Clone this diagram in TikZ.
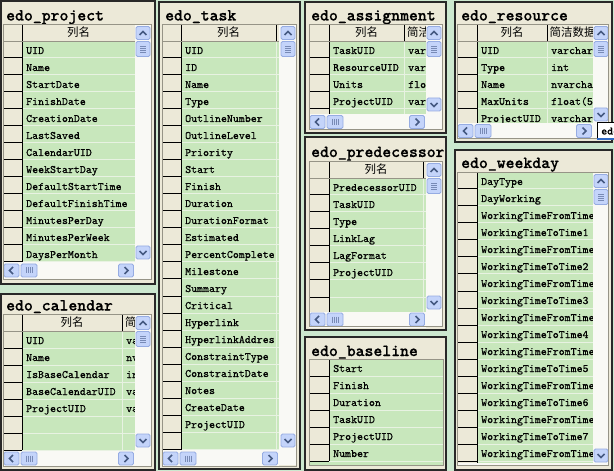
\documentclass[tikz,border=0pt]{standalone}
\usepackage{fontspec}
\newfontfamily\cjk{Noto Sans CJK SC}
\newfontfamily\ttlfont[FakeBold=0.6]{lmmonolt10-bold.otf}
\newfontfamily\cellfont[FakeBold=0.5]{lmmono10-regular.otf}

\definecolor{bgg}{RGB}{204,232,207}
\definecolor{rowg}{RGB}{200,231,188}
\definecolor{paneBeige}{RGB}{236,233,216}
\definecolor{frameDark}{RGB}{40,40,40}
\definecolor{gridEdge}{RGB}{150,148,135}
\definecolor{rowSep}{RGB}{232,242,226}
\definecolor{trackW}{RGB}{249,249,245}
\definecolor{btnFill}{RGB}{196,212,250}
\definecolor{btnEdge}{RGB}{150,172,226}
\definecolor{btnArrow}{RGB}{70,90,130}
\definecolor{tipBlue}{RGB}{49,106,197}

\tikzset{
  frm/.style={fill=paneBeige, draw=frameDark, line width=1.2bp},
  ttl/.style={font=\ttlfont\fontsize{17}{18}\selectfont, anchor=base west, inner sep=0pt},
  cell/.style={font=\cellfont\fontsize{11.4}{12}\selectfont, anchor=base west, inner sep=0pt},
  hdrtxt/.style={font=\cjk\fontsize{11.5}{12}\selectfont, inner sep=0pt},
  hdrtxtw/.style={font=\cjk\fontsize{11.5}{12}\selectfont, inner sep=0pt, anchor=west},
  selsep/.style={draw=black, line width=1bp},
  rowsep/.style={draw=rowSep, line width=1bp},
  gridbox/.style={draw=gridEdge, line width=0.8bp},
  btn/.style={fill=btnFill, draw=btnEdge, line width=0.8bp, rounded corners=1.5bp},
  arw/.style={draw=btnArrow, line width=1.5bp},
  grip/.style={draw=btnEdge!80!black, line width=0.6bp},
}

% selector column, green cells and row separators
\newcommand\gridbody[6]{%
  \fill[paneBeige] (#1,#4) rectangle (#2,#5);
  \fill[rowg] (#2,#4) rectangle (#3,#5);
  \foreach \k in {1,...,#6}{%
    \draw[rowsep] (#2,{#4+17*\k}) -- (#3,{#4+17*\k});
    \draw[selsep] (#1,{#4+17*\k}) -- (#2,{#4+17*\k});
  }%
  \draw[selsep] (#2,#4) -- (#2,#5);
}
% header row
\newcommand\hdrrow[4]{%
  \fill[paneBeige] (#1,#4) rectangle (#3,{#4+17});
  \draw[gridEdge, line width=0.8bp] (#1,{#4+17}) -- (#3,{#4+17});
  \draw[selsep] (#2,#4) -- (#2,{#4+17});
}
% column texts
\newcommand\rowlist[4]{%
  \foreach \rowname [count=\i] in {#4}{%
    \node[cell] (#1-\i) at (#2,{#3+17*(\i-1)}) {\rowname};
  }%
}
% scroll bar parts
\newcommand\sbup[2]{%
  \draw[btn] (#1,#2) rectangle ++(14,13);
  \draw[arw] ({#1+3.5},{#2+8.5}) -- ({#1+7},{#2+5}) -- ({#1+10.5},{#2+8.5});
}
\newcommand\sbdown[2]{%
  \draw[btn] (#1,#2) rectangle ++(14,13);
  \draw[arw] ({#1+3.5},{#2+5}) -- ({#1+7},{#2+8.5}) -- ({#1+10.5},{#2+5});
}
\newcommand\sbleft[2]{%
  \draw[btn] (#1,#2) rectangle ++(15,13);
  \draw[arw] ({#1+9},{#2+3}) -- ({#1+5.5},{#2+6.5}) -- ({#1+9},{#2+10});
}
\newcommand\sbright[2]{%
  \draw[btn] (#1,#2) rectangle ++(15,13);
  \draw[arw] ({#1+6},{#2+3}) -- ({#1+9.5},{#2+6.5}) -- ({#1+6},{#2+10});
}
\newcommand\sbthumbv[2]{%
  \draw[btn] (#1,#2) rectangle ++(14,15);
  \foreach \g in {0,...,3}{\draw[grip] ({#1+4},{#2+4.5+2*\g}) -- ({#1+10},{#2+4.5+2*\g});}
}
\newcommand\sbthumbh[2]{%
  \draw[btn] (#1,#2) rectangle ++(16,13);
  \foreach \g in {0,...,3}{\draw[grip] ({#1+5+2*\g},{#2+3.5}) -- ({#1+5+2*\g},{#2+9.5});}
}
% vertical bar: x, top, bottom
\newcommand\vscroll[3]{%
  \fill[trackW] (#1-1,#2) rectangle ({#1+15},#3);
  \sbup{#1}{#2+2.5}
  \sbthumbv{#1}{#2+17.5}
  \sbdown{#1}{#3-16}
}
% horizontal bar: left, right, top
\newcommand\hscroll[3]{%
  \fill[trackW] (#1,#3) rectangle (#2,{#3+16});
  \sbleft{#1+1}{#3+1.5}
  \sbthumbh{#1+18}{#3+1.5}
  \sbright{#2-16.5}{#3+1.5}
}

\begin{document}
\begin{tikzpicture}[x=1bp,y=-1bp]
\useasboundingbox (0,0) rectangle (614,471);
\fill[bgg] (0,0) rectangle (614,471);

% ================= edo_project =================
\draw[frm] (1,1) rectangle (155,284);
\begin{scope}\clip (1,1) rectangle (155,284);
  \node[ttl] (project) at (6,20.5) {edo\_project};
\end{scope}
\fill[trackW] (3,24) rectangle (151,279);
\gridbody{3}{22}{135}{41}{262}{13}
\hdrrow{3}{22}{135}{24}
\node[hdrtxt] (project-h) at (78.5,32.5) {列名};
\begin{scope}\clip (22,41) rectangle (135,262);
  \rowlist{project}{26}{54}{UID,Name,StartDate,FinishDate,CreationDate,LastSaved,CalendarUID,WeekStartDay,DefaultStartTime,DefaultFinishTime,MinutesPerDay,MinutesPerWeek,DaysPerMonth}
\end{scope}
\vscroll{136}{24}{262}
\hscroll{3}{135}{262.5}
\draw[gridbox] (3,24) rectangle (151,279);

% ================= edo_calendar =================
\draw[frm] (1,294) rectangle (155,470);
\begin{scope}\clip (1,294) rectangle (155,470);
  \node[ttl] (calendar) at (6,310.5) {edo\_calendar};
\end{scope}
\fill[trackW] (3,314) rectangle (151,466);
\gridbody{3}{22}{135}{331}{450}{7}
\draw[rowsep] (122,331) -- (122,450);
\hdrrow{3}{22}{135}{314}
\draw[selsep] (122,314) -- (122,331);
\node[hdrtxt] (calendar-h) at (72,322.5) {列名};
\begin{scope}\clip (122,314) rectangle (135,331);
  \node[hdrtxtw] (calendar-h2) at (125,322.5) {简洁数据类型};
\end{scope}
\begin{scope}\clip (22,331) rectangle (121.5,450);
  \rowlist{calendar}{26}{344}{UID,Name,IsBaseCalendar,BaseCalendarUID,ProjectUID}
\end{scope}
\begin{scope}\clip (122.5,331) rectangle (135,450);
  \rowlist{calendar-t}{126}{344}{varchar,nvarchar,int,varchar,varchar}
\end{scope}
\vscroll{136}{314}{450}
\hscroll{3}{135}{450.5}
\draw[gridbox] (3,314) rectangle (151,466);

% ================= edo_task =================
\draw[frm] (159,2) rectangle (300,469);
\begin{scope}\clip (159,2) rectangle (300,469);
  \node[ttl] (task) at (165,20.5) {edo\_task};
\end{scope}
\fill[trackW] (162,24) rectangle (296,465);
\gridbody{162}{181}{279}{41}{450}{24}
\draw[rowsep] (276,41) -- (276,450);
\hdrrow{162}{181}{279}{24}
\draw[selsep] (276,24) -- (276,41);
\node[hdrtxt] (task-h) at (228.5,32.5) {列名};
\begin{scope}\clip (181,41) rectangle (275.5,450);
  \rowlist{task}{185}{54}{UID,ID,Name,Type,OutlineNumber,OutlineLevel,Priority,Start,Finish,Duration,DurationFormat,Estimated,PercentComplete,Milestone,Summary,Critical,Hyperlink,HyperlinkAddres,ConstraintType,ConstraintDate,Notes,CreateDate,ProjectUID}
\end{scope}
\vscroll{281}{24}{450}
\hscroll{162}{279}{450.5}
\draw[gridbox] (162,24) rectangle (296,466);

% ================= edo_assignment =================
\draw[frm] (305,2) rectangle (446,133);
\begin{scope}\clip (305,2) rectangle (446,133);
  \node[ttl] (assignment) at (311,20.5) {edo\_assignment};
\end{scope}
\fill[trackW] (309,24) rectangle (442,129);
\gridbody{309}{329}{426}{41}{114}{4}
\draw[rowsep] (404,41) -- (404,114);
\hdrrow{309}{329}{426}{24}
\draw[selsep] (404,24) -- (404,41);
\node[hdrtxt] (assignment-h) at (366.5,32.5) {列名};
\begin{scope}\clip (404,24) rectangle (426,41);
  \node[hdrtxtw] (assignment-h2) at (407,32.5) {简洁数据类型};
\end{scope}
\begin{scope}\clip (329,41) rectangle (403.5,114);
  \rowlist{assignment}{333}{54}{TaskUID,ResourceUID,Units,ProjectUID}
\end{scope}
\begin{scope}\clip (404.5,41) rectangle (426,114);
  \rowlist{assignment-t}{408}{54}{varchar,varchar,float,varchar}
\end{scope}
\vscroll{427}{24}{114}
\hscroll{309}{426}{114}
\draw[gridbox] (309,24) rectangle (442,129);

% ================= edo_predecessor =================
\draw[frm] (305,137) rectangle (446,330);
\begin{scope}\clip (305,137) rectangle (443.5,330);
  \node[ttl] (predecessor) at (311,157) {edo\_predecessor};
\end{scope}
\fill[trackW] (309,161) rectangle (442,326);
\gridbody{309}{329}{426}{178}{312}{7}
\draw[rowsep] (423,178) -- (423,312);
\hdrrow{309}{329}{426}{161}
\draw[selsep] (423,161) -- (423,178);
\node[hdrtxt] (predecessor-h) at (376,169.5) {列名};
\begin{scope}\clip (329,178) rectangle (422.5,312);
  \rowlist{predecessor}{333}{191}{PredecessorUID,TaskUID,Type,LinkLag,LagFormat,ProjectUID}
\end{scope}
\vscroll{427}{161}{312}
\hscroll{309}{426}{311.5}
\draw[gridbox] (309,161) rectangle (442,326);

% ================= edo_baseline =================
\draw[frm] (305,337) rectangle (446,470);
\begin{scope}\clip (305,337) rectangle (446,470);
  \node[ttl] (baseline) at (311,356) {edo\_baseline};
\end{scope}
\fill[rowg] (309,359) rectangle (443,465);
\gridbody{309}{329}{443}{359}{461}{6}
\begin{scope}\clip (329,359) rectangle (443,461);
  \rowlist{baseline}{333}{372}{Start,Finish,Duration,TaskUID,ProjectUID,Number}
\end{scope}
\draw[gridbox] (309,359) rectangle (443,465);

% ================= edo_resource =================
\draw[frm] (455,2) rectangle (612,142);
\begin{scope}\clip (455,2) rectangle (612,142);
  \node[ttl] (resource) at (461,20.5) {edo\_resource};
\end{scope}
\fill[trackW] (457,24) rectangle (608,138);
\gridbody{457}{477}{593}{41}{124}{4}
\draw[rowsep] (547,41) -- (547,124);
\hdrrow{457}{477}{593}{24}
\draw[selsep] (547,24) -- (547,41);
\node[hdrtxt] (resource-h) at (512,32.5) {列名};
\begin{scope}\clip (547,24) rectangle (593,41);
  \node[hdrtxtw] (resource-h2) at (549.5,32.5) {简洁数据类型};
\end{scope}
\begin{scope}\clip (477,41) rectangle (546.5,124);
  \rowlist{resource}{481}{54}{UID,Type,Name,MaxUnits,ProjectUID}
\end{scope}
\begin{scope}\clip (547.5,41) rectangle (593,124);
  \rowlist{resource-t}{551}{54}{varchar(50),int,nvarchar(50),float(53),varchar(50)}
\end{scope}
\vscroll{594}{24}{124}
\hscroll{457}{593}{123}
\draw[gridbox] (457,24) rectangle (608,138);
% tooltip over the scroll bar corner
\fill[white] (597,123) rectangle (614,138);
\draw[black, line width=1bp] (614,123) -- (597,123) -- (597,138);
\fill[tipBlue] (597,138) rectangle (614,140.5);
\begin{scope}\clip (597,123) rectangle (614,138);
  \node[cell] (resource-tip) at (601,134.5) {edo\_resource};
\end{scope}

% ================= edo_weekday =================
\draw[frm] (455,150) rectangle (612,470);
\begin{scope}\clip (455,150) rectangle (612,470);
  \node[ttl] (weekday) at (461,168) {edo\_weekday};
\end{scope}
\fill[trackW] (457,172) rectangle (608,465);
\gridbody{457}{477}{593}{172}{463}{17}
\begin{scope}\clip (477,172) rectangle (593,463);
  \rowlist{weekday}{481}{185}{DayType,DayWorking,WorkingTimeFromTime,WorkingTimeToTime1,WorkingTimeFromTime,WorkingTimeToTime2,WorkingTimeFromTime,WorkingTimeToTime3,WorkingTimeFromTime,WorkingTimeToTime4,WorkingTimeFromTime,WorkingTimeToTime5,WorkingTimeFromTime,WorkingTimeToTime6,WorkingTimeFromTime,WorkingTimeToTime7,WorkingTimeFromTime}
\end{scope}
\vscroll{594}{172}{465}
\draw[gridbox] (457,172) rectangle (608,465);
\end{tikzpicture}
\end{document}
